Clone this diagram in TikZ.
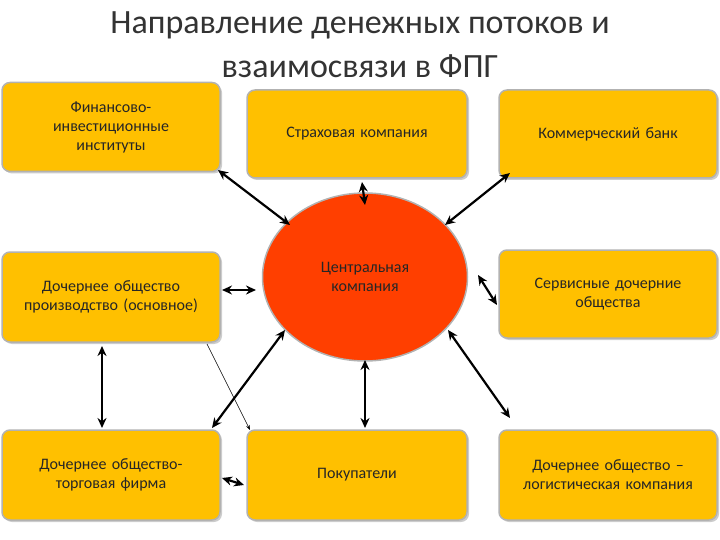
\documentclass[tikz,border=0pt]{standalone}
\usepackage{fontspec}
\setmainfont{Carlito}
\usetikzlibrary{arrows.meta,shadows,shapes.geometric}
\begin{document}
\begin{tikzpicture}[x=1pt,y=-1pt,
  bx/.style={draw=gray!60,line width=1.5pt,fill=orgf,rounded corners=8pt,drop shadow={shadow xshift=2pt,shadow yshift=-2pt,opacity=0.4},align=center,font=\fontsize{16}{19}\selectfont,text width=205pt,text=black!85},
  ar/.style={{Stealth[length=10pt,width=9pt]}-{Stealth[length=10pt,width=9pt]},line width=2.2pt}]
\definecolor{orgf}{HTML}{FFC000}
\definecolor{redf}{HTML}{FF3F00}
\useasboundingbox (0,0) rectangle (720,540);
\node[font=\fontsize{34}{44}\selectfont,align=center,text=black!80] (t) at (360,45) {Направление денежных потоков и\\взаимосвязи в ФПГ};
\node[bx,minimum width=218pt,minimum height=89pt] (b1) at (111,127) {Финансово-\\инвестиционные\\институты};
\node[bx,minimum width=220pt,minimum height=88pt] (b2) at (357,134) {Страховая компания};
\node[bx,minimum width=218pt,minimum height=88pt] (b3) at (608,134) {Коммерческий банк};
\node[bx,minimum width=218pt,minimum height=90pt] (b4) at (111,297) {Дочернее общество\\производство (основное)};
\node[draw=gray!60,line width=1.5pt,fill=redf,ellipse,minimum width=205pt,minimum height=168pt,align=center,font=\fontsize{16}{19}\selectfont,text=black!85] (c) at (365,277) {Центральная\\компания};
\node[bx,minimum width=218pt,minimum height=88pt] (b5) at (608,294) {Сервисные дочерние\\общества};
\node[bx,minimum width=218pt,minimum height=90pt] (b6) at (111,475) {Дочернее общество-\\торговая фирма};
\node[bx,minimum width=220pt,minimum height=90pt] (b7) at (357,475) {Покупатели};
\node[bx,minimum width=218pt,minimum height=90pt] (b8) at (608,475) {Дочернее общество –\\логистическая компания};
\draw[ar] (218,170) -- (290,225);
\draw[ar] (362,182) -- (365,205);
\draw[ar] (510,173) -- (445,225);
\draw[ar] (222,290) -- (256,290);
\draw[ar] (478,275) -- (497,305);
\draw[ar] (285,330) -- (212,428);
\draw[ar] (365,360) -- (365,428);
\draw[ar] (448,330) -- (510,418);
\draw[ar] (102,346) -- (102,428);
\draw[ar] (222,478) -- (244,485);
\draw[-{Stealth[length=5pt]},line width=0.6pt] (207,344) -- (250,430);
\end{tikzpicture}
\end{document}
